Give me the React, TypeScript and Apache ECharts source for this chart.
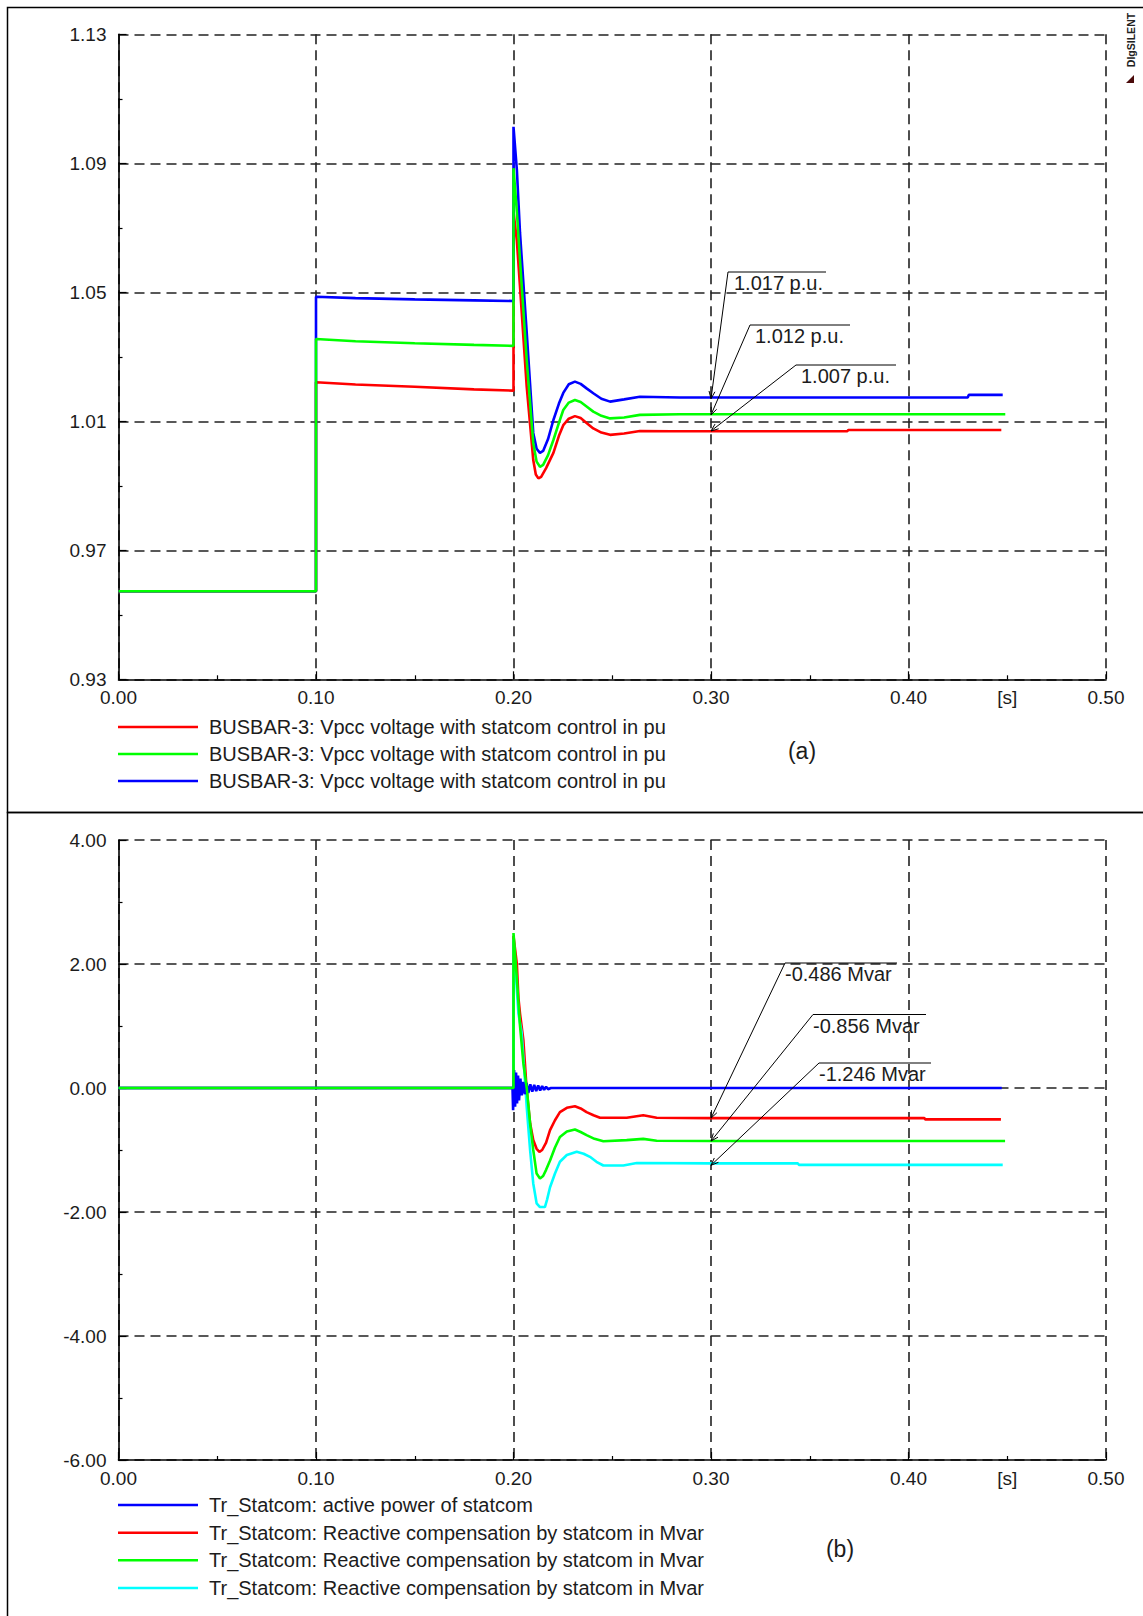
import React, { useEffect, useRef } from "react";
import * as echarts from "echarts";

// ---------------- Panel (a): BUSBAR-3 Vpcc voltage (p.u.) ----------------
const A_RED_T = [0, 0.1, 0.1, 0.12, 0.15, 0.18, 0.2, 0.2, 0.2017, 0.2033, 0.2067, 0.21, 0.2113, 0.2126, 0.214, 0.2165, 0.2202, 0.223, 0.2252, 0.228, 0.2311, 0.234, 0.237, 0.2404, 0.2445, 0.2489, 0.256, 0.264, 0.28, 0.3, 0.369, 0.3695, 0.447];
const A_RED_V = [0.9573, 0.9573, 1.0221, 1.0214, 1.0207, 1.0199, 1.0195, 1.075, 1.066, 1.0517, 1.0207, 0.998, 0.9935, 0.9923, 0.9928, 0.9955, 1.0002, 1.0055, 1.0088, 1.0108, 1.0116, 1.011, 1.0095, 1.0078, 1.0065, 1.0058, 1.0062, 1.007, 1.0069, 1.0069, 1.0069, 1.0073, 1.0073];

const A_GREEN_T = [0, 0.1, 0.1, 0.12, 0.15, 0.18, 0.2, 0.2, 0.2017, 0.2033, 0.2067, 0.21, 0.2117, 0.2134, 0.215, 0.2175, 0.2202, 0.223, 0.2252, 0.228, 0.2311, 0.234, 0.237, 0.2404, 0.2445, 0.2489, 0.256, 0.264, 0.2843, 0.3, 0.449];
const A_GREEN_V = [0.9573, 0.9573, 1.0355, 1.0348, 1.0342, 1.0337, 1.0334, 1.0885, 1.075, 1.06, 1.029, 1.0033, 0.9975, 0.9959, 0.9965, 0.9995, 1.0042, 1.0095, 1.0135, 1.0158, 1.0166, 1.016, 1.0146, 1.013, 1.0117, 1.0109, 1.0112, 1.012, 1.0122, 1.0122, 1.0122];

const A_BLUE_T = [0, 0.1, 0.1, 0.12, 0.15, 0.18, 0.2, 0.2, 0.2017, 0.2033, 0.2067, 0.21, 0.2117, 0.2134, 0.215, 0.2175, 0.2202, 0.223, 0.2252, 0.228, 0.2311, 0.234, 0.237, 0.2404, 0.2445, 0.2489, 0.256, 0.264, 0.2843, 0.3, 0.43, 0.4305, 0.4477];
const A_BLUE_V = [0.9573, 0.9573, 1.0486, 1.0482, 1.0478, 1.0475, 1.0473, 1.1013, 1.088, 1.0684, 1.0374, 1.0064, 1.0015, 1.0002, 1.0008, 1.0045, 1.0104, 1.0155, 1.0188, 1.0215, 1.0223, 1.0216, 1.0202, 1.0187, 1.017, 1.0161, 1.0168, 1.0176, 1.0174, 1.0174, 1.0174, 1.0182, 1.0182];

const A_LEGEND = [
  "BUSBAR-3: Vpcc voltage with statcom control in pu",
  "BUSBAR-3: Vpcc voltage with statcom control in pu",
  "BUSBAR-3: Vpcc voltage with statcom control in pu",
];
const A_ANNOT_VALUES = [1.017, 1.012, 1.007];
const A_ANNOT_TEXT = ["1.017 p.u.", "1.012 p.u.", "1.007 p.u."];

// ---------------- Panel (b): Tr_Statcom powers ----------------
const B_BLUE_T = [0, 0.1995, 0.1998, 0.2003, 0.2008, 0.2013, 0.2018, 0.2023, 0.2028, 0.2035, 0.2042, 0.205, 0.2058, 0.2066, 0.2075, 0.2085, 0.2095, 0.2105, 0.2115, 0.2125, 0.2135, 0.2145, 0.2155, 0.2165, 0.2175, 0.219, 0.4472];
const B_BLUE_V = [0, 0, -0.36, 0.29, -0.3, 0.25, -0.25, 0.2, -0.2, 0.15, -0.12, 0.1, -0.1, 0.08, -0.08, 0.06, -0.06, 0.05, -0.05, 0.04, -0.04, 0.03, -0.03, 0.02, -0.02, 0, 0];

const B_RED_T = [0, 0.2, 0.2, 0.2017, 0.2025, 0.2033, 0.205, 0.2067, 0.2084, 0.21, 0.2117, 0.2131, 0.2145, 0.2165, 0.2185, 0.221, 0.2235, 0.227, 0.2311, 0.234, 0.237, 0.2405, 0.2438, 0.2573, 0.2657, 0.2725, 0.3, 0.408, 0.4085, 0.4468];
const B_RED_V = [0, 0, 2.45, 2.0, 1.45, 1.2, 0.77, -0.04, -0.57, -0.84, -0.98, -1.03, -1.0, -0.88, -0.68, -0.52, -0.39, -0.32, -0.295, -0.33, -0.39, -0.44, -0.48, -0.48, -0.44, -0.48, -0.486, -0.486, -0.506, -0.506];

const B_GREEN_T = [0, 0.2, 0.2, 0.2016, 0.2033, 0.205, 0.2067, 0.2084, 0.21, 0.2117, 0.2134, 0.215, 0.2165, 0.2185, 0.221, 0.2235, 0.227, 0.2311, 0.234, 0.237, 0.241, 0.2455, 0.2573, 0.2657, 0.2725, 0.3, 0.4489];
const B_GREEN_V = [0, 0, 2.5, 1.8, 1.0, 0.4, 0.0, -0.57, -1.0, -1.38, -1.46, -1.42, -1.32, -1.17, -0.96, -0.79, -0.7, -0.67, -0.71, -0.76, -0.82, -0.86, -0.84, -0.82, -0.85, -0.856, -0.856];

const B_CYAN_T = [0, 0.2, 0.2, 0.2025, 0.2041, 0.205, 0.2067, 0.2084, 0.21, 0.2117, 0.2134, 0.2159, 0.217, 0.2185, 0.221, 0.2235, 0.227, 0.232, 0.2355, 0.2387, 0.242, 0.2455, 0.2556, 0.2624, 0.3, 0.344, 0.3445, 0.4477];
const B_CYAN_V = [0, 0, 2.4, 1.2, 0.9, 0.5, -0.31, -1.0, -1.54, -1.86, -1.92, -1.92, -1.8, -1.6, -1.38, -1.19, -1.08, -1.03, -1.06, -1.11, -1.19, -1.25, -1.25, -1.21, -1.215, -1.215, -1.24, -1.24];

const B_LEGEND = [
  "Tr_Statcom: active power of statcom",
  "Tr_Statcom: Reactive compensation by statcom in Mvar",
  "Tr_Statcom: Reactive compensation by statcom in Mvar",
  "Tr_Statcom: Reactive compensation by statcom in Mvar",
];
const B_ANNOT_VALUES = [-0.486, -0.856, -1.246];
const B_ANNOT_TEXT = ["-0.486 Mvar", "-0.856 Mvar", "-1.246 Mvar"];

const ANNOT_T = 0.3;
const UNIT_LABEL_T = 0.45;

// ---------------- styling / layout ----------------
const W = 1143;
const H = 1616;
const FONT = "'Liberation Sans', Arial, sans-serif";
const TXT = "#1c1c1c";
const RED = "#ff0000";
const GREEN = "#00ff00";
const BLUE = "#0000ff";
const CYAN = "#00ffff";
const GRIDLINE = { color: "#222", width: 1.6, type: [10, 6] };

const GRID_A = { left: 118.5, top: 34.3, width: 987.5, height: 645 };
const GRID_B = { left: 118.5, top: 840, width: 987.5, height: 620 };

const A_LEGEND_ROWS = [727, 754, 781];
const B_LEGEND_ROWS = [1505, 1532.7, 1560.3, 1588];
const A_LABEL_POS = [[728, 272, 98, 6], [750, 325, 100, 5], [796, 365, 100, 5]];
const B_LABEL_POS = [[785, 963, 112, 0], [813, 1014.5, 113, 0], [819, 1063, 112, 0]];

const zip = (t: number[], v: number[]) => t.map((x, i) => [x, v[i]]);

function xAxisFor(gridIndex: number) {
  return {
    type: "value",
    gridIndex,
    min: 0,
    max: 0.5,
    interval: 0.1,
    axisLine: { show: true, onZero: false, lineStyle: { color: "#000", width: 1.6 } },
    axisTick: { show: true, inside: true, length: 8, lineStyle: { color: "#000", width: 1.2 } },
    minorTick: { show: true, splitNumber: 2, length: 4, lineStyle: { color: "#000", width: 1.2 } },
    splitLine: { show: true, lineStyle: GRIDLINE },
    axisLabel: {
      formatter: (v: number) => v.toFixed(2),
      fontSize: 19,
      color: TXT,
      fontFamily: FONT,
      margin: 9,
    },
  };
}

function yAxisFor(gridIndex: number, min: number, max: number, interval: number) {
  return {
    type: "value",
    gridIndex,
    min,
    max,
    interval,
    axisLine: { show: true, onZero: false, lineStyle: { color: "#000", width: 1.6 } },
    axisTick: { show: true, inside: true, length: 8, lineStyle: { color: "#000", width: 1.2 } },
    minorTick: { show: true, splitNumber: 2, length: 4, lineStyle: { color: "#000", width: 1.2 } },
    splitLine: { show: true, lineStyle: GRIDLINE },
    axisLabel: {
      formatter: (v: number) => v.toFixed(2),
      fontSize: 19,
      color: TXT,
      fontFamily: FONT,
      margin: 12,
    },
  };
}

function lineSeries(data: number[][], color: string, axisIndex: number, z: number) {
  return {
    type: "line",
    xAxisIndex: axisIndex,
    yAxisIndex: axisIndex,
    data,
    symbol: "none",
    showSymbol: false,
    silent: true,
    z,
    lineStyle: { color, width: 2.6 },
    itemStyle: { color },
  };
}

export default function App() {
  const ref = useRef<HTMLDivElement>(null);

  useEffect(() => {
    document.body.style.margin = "0";
    document.body.style.overflow = "hidden";
    const chart = echarts.init(ref.current!, null, { renderer: "svg" });

    chart.setOption({
      animation: false,
      backgroundColor: "#ffffff",
      grid: [
        { ...GRID_A, containLabel: false },
        { ...GRID_B, containLabel: false },
      ],
      xAxis: [xAxisFor(0), xAxisFor(1)],
      yAxis: [yAxisFor(0, 0.93, 1.13, 0.04), yAxisFor(1, -6, 4, 2)],
      series: [
        lineSeries(zip(A_RED_T, A_RED_V), RED, 0, 2),
        lineSeries(zip(A_BLUE_T, A_BLUE_V), BLUE, 0, 3),
        lineSeries(zip(A_GREEN_T, A_GREEN_V), GREEN, 0, 4),
        lineSeries(zip(B_RED_T, B_RED_V), RED, 1, 2),
        lineSeries(zip(B_CYAN_T, B_CYAN_V), CYAN, 1, 2),
        lineSeries(zip(B_BLUE_T, B_BLUE_V), BLUE, 1, 3),
        lineSeries(zip(B_GREEN_T, B_GREEN_V), GREEN, 1, 4),
      ],
    });

    const els: any[] = [];

    // panel borders
    els.push({
      type: "rect",
      shape: { x: 7.5, y: 7.5, width: 1200, height: 805 },
      style: { fill: "none", stroke: "#000", lineWidth: 1.5 },
      z: 100,
    });
    els.push({
      type: "rect",
      shape: { x: 7.5, y: 812.5, width: 1200, height: 900 },
      style: { fill: "none", stroke: "#000", lineWidth: 1.5 },
      z: 100,
    });

    // legends
    const legendBlock = (rows: number[], texts: string[], colors: string[]) => {
      rows.forEach((y, i) => {
        els.push({
          type: "line",
          shape: { x1: 118, y1: y, x2: 198, y2: y },
          style: { stroke: colors[i], lineWidth: 2.6 },
          z: 100,
        });
        els.push({
          type: "text",
          x: 209,
          y,
          style: {
            text: texts[i],
            fontSize: 20,
            fontFamily: FONT,
            fill: TXT,
            textVerticalAlign: "middle",
            textAlign: "left",
          },
          z: 100,
        });
      });
    };
    legendBlock(A_LEGEND_ROWS, A_LEGEND, [RED, GREEN, BLUE]);
    legendBlock(B_LEGEND_ROWS, B_LEGEND, [BLUE, RED, GREEN, CYAN]);

    // panel captions
    els.push({
      type: "text",
      x: 802,
      y: 751,
      style: { text: "(a)", fontSize: 23, fontFamily: FONT, fill: TXT, textAlign: "center", textVerticalAlign: "middle" },
      z: 100,
    });
    els.push({
      type: "text",
      x: 840,
      y: 1549,
      style: { text: "(b)", fontSize: 23, fontFamily: FONT, fill: TXT, textAlign: "center", textVerticalAlign: "middle" },
      z: 100,
    });

    // "[s]" unit labels
    [0, 1].forEach((g) => {
      const ymin = g === 0 ? 0.93 : -6;
      const p = chart.convertToPixel({ gridIndex: g }, [UNIT_LABEL_T, ymin]) as number[];
      els.push({
        type: "text",
        x: p[0],
        y: p[1] + 9,
        style: { text: "[s]", fontSize: 19, fontFamily: FONT, fill: TXT, textAlign: "center", textVerticalAlign: "top" },
        z: 100,
      });
    });

    // annotations
    const annotate = (g: number, values: number[], texts: string[], pos: number[][]) => {
      values.forEach((v, i) => {
        const a = chart.convertToPixel({ gridIndex: g }, [ANNOT_T, v]) as number[];
        const [lx, ly, len, tdx] = pos[i];
        els.push({
          type: "line",
          shape: { x1: lx, y1: ly, x2: lx + len, y2: ly },
          style: { stroke: "#000", lineWidth: 1 },
          z: 110,
        });
        els.push({
          type: "line",
          shape: { x1: lx, y1: ly, x2: a[0], y2: a[1] },
          style: { stroke: "#000", lineWidth: 1 },
          z: 110,
        });
        const dx = lx - a[0];
        const dy = ly - a[1];
        const L = Math.hypot(dx, dy);
        const ux = dx / L;
        const uy = dy / L;
        const ang = (22 * Math.PI) / 180;
        const wl = 8;
        const w1 = [a[0] + wl * (ux * Math.cos(ang) - uy * Math.sin(ang)), a[1] + wl * (ux * Math.sin(ang) + uy * Math.cos(ang))];
        const w2 = [a[0] + wl * (ux * Math.cos(-ang) - uy * Math.sin(-ang)), a[1] + wl * (ux * Math.sin(-ang) + uy * Math.cos(-ang))];
        els.push({
          type: "polyline",
          shape: { points: [w1, a, w2] },
          style: { stroke: "#000", lineWidth: 1, fill: "none" },
          z: 110,
        });
        els.push({
          type: "text",
          x: lx + tdx,
          y: ly + 1,
          style: { text: texts[i], fontSize: 20, fontFamily: FONT, fill: TXT, textAlign: "left", textVerticalAlign: "top" },
          z: 110,
        });
      });
    };
    annotate(0, A_ANNOT_VALUES, A_ANNOT_TEXT, A_LABEL_POS);
    annotate(1, B_ANNOT_VALUES, B_ANNOT_TEXT, B_LABEL_POS);

    // DIgSILENT logo
    els.push({
      type: "text",
      x: 1131,
      y: 40,
      rotation: Math.PI / 2,
      style: { text: "DIgSILENT", fontSize: 10.5, fontWeight: "bold", fontFamily: FONT, fill: "#222", textAlign: "center", textVerticalAlign: "middle" },
      z: 100,
    });
    els.push({
      type: "polygon",
      shape: { points: [[1126, 83], [1134, 83], [1134, 75]] },
      style: { fill: "#4a0a0a" },
      z: 100,
    });

    chart.setOption({ graphic: { elements: els } });

    return () => chart.dispose();
  }, []);

  return <div ref={ref} style={{ width: W, height: H }} />;
}
